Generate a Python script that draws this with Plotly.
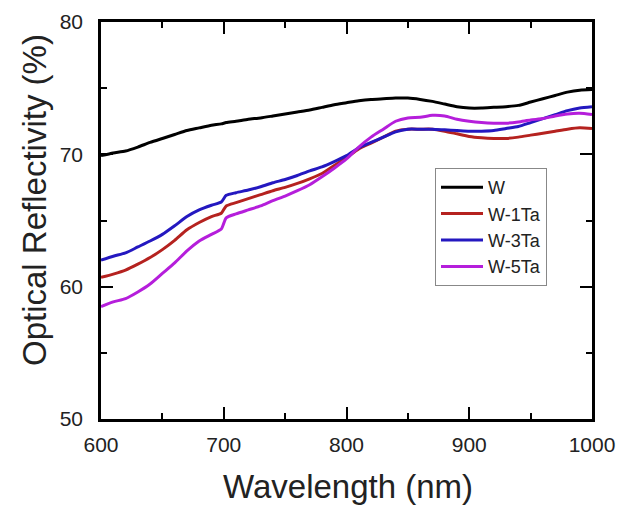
import plotly.graph_objects as go

wavelength = [600, 610, 620, 630, 640, 650, 660, 670, 680, 690, 698, 702, 710, 720, 730, 740,
              750, 760, 770, 780, 790, 800, 810, 820, 830, 840, 850, 860, 870, 880, 890, 900,
              910, 920, 930, 940, 950, 960, 970, 980, 990, 1000]

W = [69.9, 70.1, 70.25, 70.55, 70.9, 71.2, 71.5, 71.8, 72.0, 72.2, 72.3, 72.4, 72.5, 72.65,
     72.75, 72.9, 73.05, 73.2, 73.35, 73.55, 73.75, 73.9, 74.05, 74.15, 74.2, 74.25, 74.25,
     74.15, 74.0, 73.8, 73.6, 73.5, 73.5, 73.55, 73.6, 73.7, 73.95, 74.2, 74.45, 74.7, 74.85, 74.9]

W_1Ta = [60.7, 60.95, 61.25, 61.7, 62.2, 62.8, 63.5, 64.3, 64.85, 65.3, 65.55, 66.1, 66.35,
         66.65, 66.95, 67.25, 67.5, 67.8, 68.15, 68.55, 69.15, 69.75, 70.4, 70.85, 71.3, 71.75,
         71.9, 71.9, 71.9, 71.75, 71.55, 71.35, 71.25, 71.2, 71.2, 71.3, 71.45, 71.6, 71.75,
         71.9, 72.0, 71.95]

W_3Ta = [62.0, 62.3, 62.55, 63.0, 63.45, 63.95, 64.6, 65.3, 65.8, 66.15, 66.4, 66.9, 67.1,
         67.3, 67.55, 67.85, 68.1, 68.4, 68.75, 69.05, 69.45, 69.9, 70.5, 70.9, 71.3, 71.7,
         71.9, 71.9, 71.9, 71.85, 71.8, 71.75, 71.75, 71.8, 71.95, 72.1, 72.4, 72.7, 73.0,
         73.3, 73.5, 73.6]

W_5Ta = [58.5, 58.85, 59.1, 59.6, 60.2, 61.0, 61.8, 62.7, 63.45, 63.95, 64.35, 65.2, 65.5,
         65.8, 66.1, 66.5, 66.85, 67.25, 67.7, 68.3, 68.95, 69.65, 70.55, 71.3, 71.9, 72.5,
         72.75, 72.8, 72.95, 72.9, 72.65, 72.5, 72.4, 72.35, 72.35, 72.45, 72.6, 72.7, 72.9,
         73.05, 73.1, 73.0]

names = ["W", "W-1Ta", "W-3Ta", "W-5Ta"]
colors = ["#000000", "#B5221F", "#2418C0", "#B51EDB"]
series = [W, W_1Ta, W_3Ta, W_5Ta]

x_ticks = [600, 700, 800, 900, 1000]
y_ticks = [50, 60, 70, 80]

FONT = "Liberation Sans, Arial, sans-serif"

# page body has an 8px default margin, so the canvas is offset by 8px
OFF = 8
W_FIG, H_FIG = 629 - OFF, 505 - OFF
PL, PR, PT, PB = 101, 592, 22, 419  # plot box in window pixels

fig = go.Figure()
for n, c, s in zip(names, colors, series):
    fig.add_trace(go.Scatter(x=wavelength, y=s, name=n, mode="lines",
                             line=dict(color=c, width=3, shape="spline", smoothing=0.6)))

axis_common = dict(
    showline=True, linecolor="black", linewidth=2.5, mirror="ticks",
    ticks="inside", ticklen=12, tickwidth=2, tickcolor="black",
    showgrid=False, zeroline=False, automargin=False,
    tickfont=dict(family=FONT, size=21, color="#222"),
)

fig.update_xaxes(range=[600, 1000], tickvals=x_ticks, ticklabelstandoff=5,
                 minor=dict(dtick=50, ticks="inside", ticklen=6, tickwidth=2, tickcolor="black",
                            showgrid=False),
                 **axis_common)
fig.update_yaxes(range=[50, 80], tickvals=y_ticks, ticklabelstandoff=11,
                 minor=dict(dtick=5, ticks="inside", ticklen=6, tickwidth=2, tickcolor="black",
                            showgrid=False),
                 **axis_common)

pw, ph = PR - PL, PB - PT

fig.update_layout(
    width=W_FIG, height=H_FIG,
    margin=dict(l=PL - OFF, r=W_FIG + OFF - PR, t=PT - OFF, b=H_FIG + OFF - PB,
                autoexpand=False),
    paper_bgcolor="white", plot_bgcolor="white",
    showlegend=True,
    legend=dict(x=(435 - PL) / pw, y=(PB - 168) / ph, xanchor="left", yanchor="top",
                bgcolor="white", bordercolor="#888", borderwidth=1,
                font=dict(family=FONT, size=18, color="#222"),
                tracegroupgap=0, itemwidth=42),
    annotations=[
        dict(text="Wavelength (nm)", xref="paper", yref="paper", x=(348 - PL) / pw,
             y=(PB - 486) / ph,
             xanchor="center", yanchor="middle", showarrow=False,
             font=dict(family=FONT, size=33, color="#222")),
        dict(text="Optical Reflectivity (%)", xref="paper", yref="paper",
             x=(34 - PL) / pw, y=(PB - 200) / ph, textangle=-90,
             xanchor="center", yanchor="middle", showarrow=False,
             font=dict(family=FONT, size=33, color="#222")),
    ],
)

fig.write_html("out.html")
